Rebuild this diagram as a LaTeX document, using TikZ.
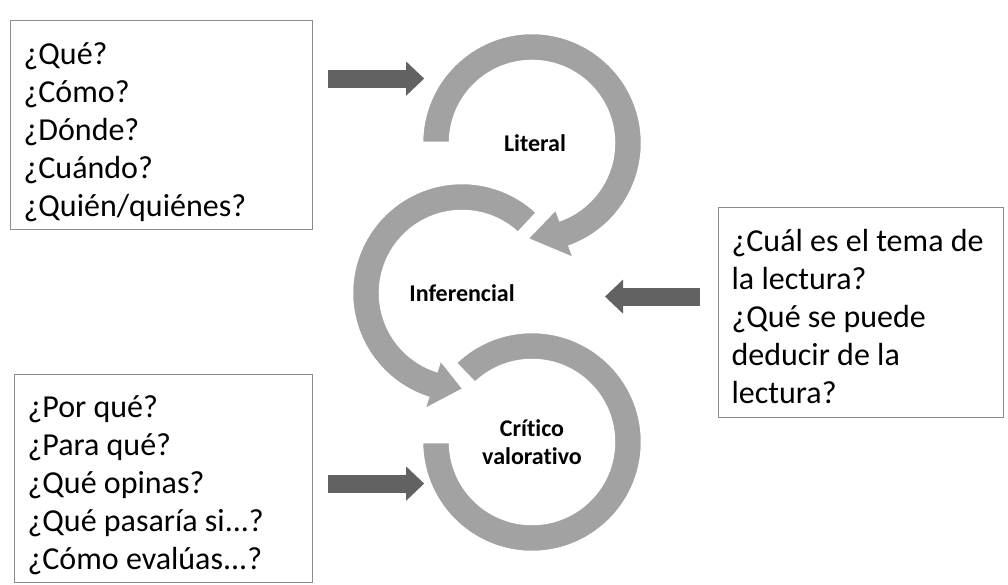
\documentclass[tikz,border=0pt]{standalone}
\usepackage{fontspec}
\setmainfont{Carlito}[Ligatures=NoCommon]
\usetikzlibrary{arrows.meta, positioning}
\definecolor{bandgray}{RGB}{162,162,162}
\definecolor{arrowgray}{RGB}{98,98,98}
\definecolor{boxgray}{RGB}{140,140,140}

\tikzset{
  qbox/.style={draw=boxgray, line width=1.2pt, fill=white, align=flush left, anchor=north west,
    inner xsep=13pt, inner ysep=0pt, font=\fontsize{32}{38}\selectfont,
    execute at begin node={\rule{0pt}{40pt}},
    execute at end node={\rule[-10pt]{0pt}{0pt}}},
  lbl/.style={font=\fontsize{24}{28}\selectfont\bfseries, align=center},
  band/.style={fill=bandgray, draw=white, line width=2.5pt},
  blockarrow/.style={draw=arrowgray, line width=18pt, -{Triangle[length=18pt, width=33pt]}},
}

\begin{document}
\begin{tikzpicture}[x=1pt, y=1pt]
  \useasboundingbox (0,0) rectangle (1008,584);
  % circle centres
  \coordinate (lit) at (532,441);
  \coordinate (inf) at (462,291);
  \coordinate (cri) at (532,142);

  % bands
  \filldraw[band] ([shift={(134:110pt)}]cri) arc[start angle=134, end angle=-180, radius=110pt]
    -- ([shift={(180:82pt)}]cri) arc[start angle=-180, end angle=134, radius=82pt] -- cycle;
  \filldraw[band] ([shift={(47:110pt)}]inf) arc[start angle=47, end angle=252, radius=110pt]
    -- ([shift={(252:123pt)}]inf) -- ([shift={(271:96pt)}]inf) -- ([shift={(252:70pt)}]inf)
    -- ([shift={(252:82pt)}]inf) arc[start angle=252, end angle=47, radius=82pt] -- cycle;
  \filldraw[band] ([shift={(180:110pt)}]lit) arc[start angle=180, end angle=-70, radius=110pt]
    -- ([shift={(-70:123pt)}]lit) -- ([shift={(-93:96pt)}]lit) -- ([shift={(-70:70pt)}]lit)
    -- ([shift={(-70:82pt)}]lit) arc[start angle=-70, end angle=180, radius=82pt] -- cycle;

  \node[lbl] (litlbl) at ([xshift=3pt]lit) {Literal};
  \node[lbl] (inflbl) at (inf) {Inferencial};
  \node[lbl] (crilbl) at (cri) {Crítico\\valorativo};

  % question boxes
  \node[qbox, text width=276pt, minimum height=209pt] (q1) at (10,564)
    {¿Qué?\\¿Cómo?\\¿Dónde?\\¿Cuándo?\\¿Quién/quiénes?};
  \node[qbox, text width=259pt, minimum height=210pt] (q2) at (718,377)
    {¿Cuál es el tema de\\la lectura?\\¿Qué se puede\\deducir de la\\lectura?};
  \node[qbox, text width=272pt, minimum height=208pt] (q3) at (14,210)
    {¿Por qué?\\¿Para qué?\\¿Qué opinas?\\¿Qué pasaría si...?\\¿Cómo evalúas...?};

  % arrows
  \draw[blockarrow] ([shift={(15,46.5)}]q1.east) -- ++(96,0);
  \draw[blockarrow] ([shift={(-18,16)}]q2.west) -- ++(-95,0);
  \draw[blockarrow] ([shift={(15,-5)}]q3.east) -- ++(96,0);
\end{tikzpicture}
\end{document}
